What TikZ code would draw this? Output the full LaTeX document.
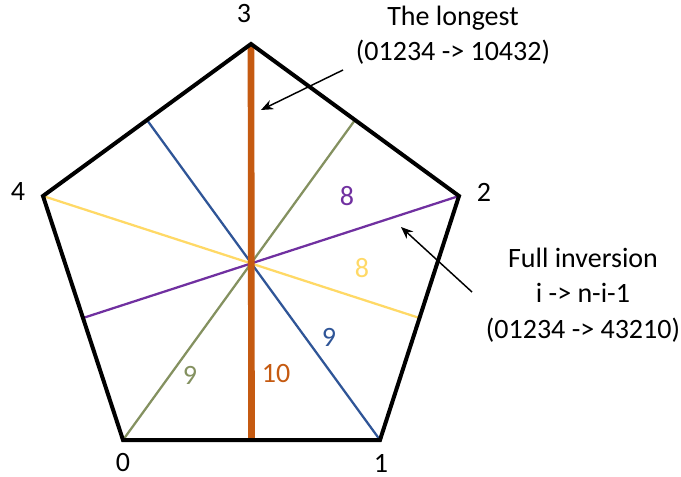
\documentclass[tikz,border=0pt]{standalone}
\usepackage{fontspec}
\setmainfont{Carlito}
\usetikzlibrary{arrows.meta,calc}
\definecolor{pgorange}{RGB}{197,90,17}
\definecolor{pgblue}{RGB}{47,85,151}
\definecolor{pgolive}{RGB}{132,145,96}
\definecolor{pgpurple}{RGB}{112,48,160}
\definecolor{pgyellow}{RGB}{255,217,102}
\tikzset{
  rim/.style={line width=3pt, line join=miter},
  chord/.style={line width=1.7pt},
  main/.style={line width=5pt, color=pgorange},
  vlbl/.style={font=\fontsize{21}{25}\selectfont, inner sep=0pt},
  cnt/.style={font=\fontsize{21}{25}\selectfont, inner sep=0pt},
  note/.style={font=\fontsize{21}{26.5}\selectfont, align=center, inner sep=0pt},
  ptr/.style={-{Stealth[length=3.2mm, width=2.6mm]}, line width=1.1pt},
}

\begin{document}
\begin{tikzpicture}[x=0.75pt, y=-0.75pt]
\useasboundingbox (0,0) rectangle (681,477);
% corners of the pentagon
\coordinate (v0) at (123,440);
\coordinate (v1) at (380,440);
\coordinate (v2) at (459,196);
\coordinate (v3) at (251,44);
\coordinate (v4) at (43,196);
% middles of the opposite sides
\coordinate (m34) at ($(v3)!0.5!(v4)$);
\coordinate (m23) at ($(v2)!0.5!(v3)$);
\coordinate (m40) at ($(v4)!0.5!(v0)$);
\coordinate (m12) at ($(v1)!0.5!(v2)$);
\coordinate (m01) at ($(v0)!0.5!(v1)$);

\draw[chord, pgyellow] (v4) -- (m12);
\draw[chord, pgpurple] (v2) -- (m40);
\draw[chord, pgolive] (v0) -- (m23);
\draw[chord, pgblue] (v1) -- (m34);
\draw[main] (v3) -- (m01);
\draw[rim] (v0) -- (v1) -- (v2) -- (v3) -- (v4) -- cycle;

\node[vlbl] (l0) at (123,463) {0};
\node[vlbl] (l1) at (381,463) {1};
\node[vlbl] (l2) at (484,192) {2};
\node[vlbl] (l3) at (244,14) {3};
\node[vlbl] (l4) at (18,192) {4};

\node[cnt, text=pgpurple] (c8a) at (347,196) {8};
\node[cnt, text=pgyellow] (c8b) at (362,268) {8};
\node[cnt, text=pgblue] (c9a) at (329,337) {9};
\node[cnt, text=pgolive] (c9b) at (190,375) {9};
\node[cnt, text=pgorange] (c10) at (276,374) {10};

\node[note] (longest) at (453,35) {The longest\\(01234 -> 10432)};
\node[note] (inv) at (583,295) {Full inversion\\i -> n-i-1\\(01234 -> 43210)};

\coordinate (p1) at (343,70);
\coordinate (t1) at (261,110);
\coordinate (p2) at (472,292);
\coordinate (t2) at (401,227);
\draw[ptr] (p1) -- (t1);
\draw[ptr] (p2) -- (t2);
\end{tikzpicture}
\end{document}
